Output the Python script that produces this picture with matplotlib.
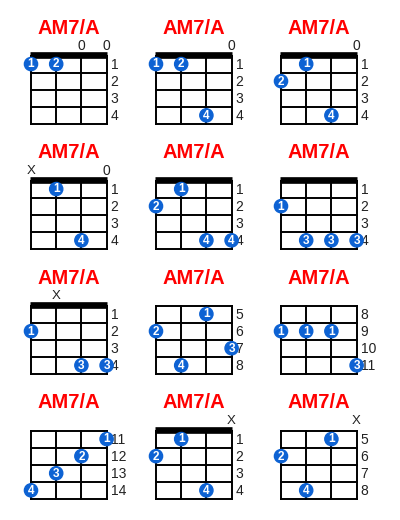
import matplotlib
matplotlib.use("Agg")
import matplotlib.pyplot as plt
from matplotlib.patches import Circle

plt.rcParams['font.family'] = ['Liberation Sans', 'DejaVu Sans']

# chord diagrams, read left to right, top to bottom
titles = ["AM7/A"] * 12
base_frets = [1, 1, 1, 1, 1, 1, 1, 5, 8, 11, 1, 5]
# marks above strings G C E A: 'o' open, 'x' muted, '-' nothing
top_marks = ["--oo", "---o", "---o", "x--o",
             "----", "----", "-x--", "----",
             "----", "----", "---x", "---x"]
# (string, row in diagram, finger)
fingers = [
    [(0, 1, 1), (1, 1, 2)],
    [(0, 1, 1), (1, 1, 2), (2, 4, 4)],
    [(1, 1, 1), (0, 2, 2), (2, 4, 4)],
    [(1, 1, 1), (2, 4, 4)],
    [(1, 1, 1), (0, 2, 2), (2, 4, 4), (3, 4, 4)],
    [(0, 2, 1), (1, 4, 3), (2, 4, 3), (3, 4, 3)],
    [(0, 2, 1), (2, 4, 3), (3, 4, 3)],
    [(2, 1, 1), (0, 2, 2), (3, 3, 3), (1, 4, 4)],
    [(0, 2, 1), (1, 2, 1), (2, 2, 1), (3, 4, 3)],
    [(3, 1, 1), (2, 2, 2), (1, 3, 3), (0, 4, 4)],
    [(1, 1, 1), (0, 2, 2), (2, 4, 4)],
    [(2, 1, 1), (0, 2, 2), (1, 4, 4)],
]

n_strings = 4
n_rows = 4
string_gap = 25.2
row_h = 17.1
dot_r = 6.6
blue = '#0d62d3'

fig = plt.figure(figsize=(4, 5.2), dpi=100)
ax = fig.add_axes([0, 0, 1, 1])
ax.set_xlim(0, 400)
ax.set_ylim(520, 0)
ax.axis('off')

for k in range(len(titles)):
    r, c = divmod(k, 3)
    x0 = 31 + 125 * c
    y0 = 55.5 + 125 * r
    w = string_gap * (n_strings - 1)
    h = row_h * n_rows

    ax.text(x0 + w / 2, y0 - 27.5, titles[k], color='#ff0000', fontsize=14.5,
            fontweight='bold', ha='center', va='center')

    for s in range(n_strings):
        x = x0 + s * string_gap
        ax.plot([x, x], [y0, y0 + h], color='black', lw=1.4,
                solid_capstyle='projecting', zorder=2)
    for f in range(n_rows + 1):
        y = y0 + f * row_h
        ax.plot([x0, x0 + w], [y, y], color='black', lw=1.4,
                solid_capstyle='projecting', zorder=2)
    if base_frets[k] == 1:
        ax.plot([x0 - 0.8, x0 + w + 0.8], [y0 - 0.4, y0 - 0.4], color='black',
                lw=4.8, solid_capstyle='butt', zorder=3)

    for f in range(n_rows):
        ax.text(x0 + w + 4, y0 + (f + 0.5) * row_h + 0.5, str(base_frets[k] + f),
                color='#222222', fontsize=10, ha='left', va='center', zorder=1)

    for s, m in enumerate(top_marks[k]):
        if m == '-':
            continue
        label = '0' if m == 'o' else 'X'
        ax.text(x0 + s * string_gap, y0 - 9.5, label, color='#222222',
                fontsize=10 if m == 'o' else 9.5, ha='center', va='center')

    for s, row, fg in fingers[k]:
        cx = x0 + s * string_gap
        cy = y0 + (row - 0.5) * row_h
        ax.add_patch(Circle((cx, cy), dot_r, color=blue, zorder=5))
        ax.text(cx, cy + 0.4, str(fg), color='white', fontsize=8.5,
                fontweight='bold', ha='center', va='center', zorder=6)

fig.savefig('out.png', dpi=100)
